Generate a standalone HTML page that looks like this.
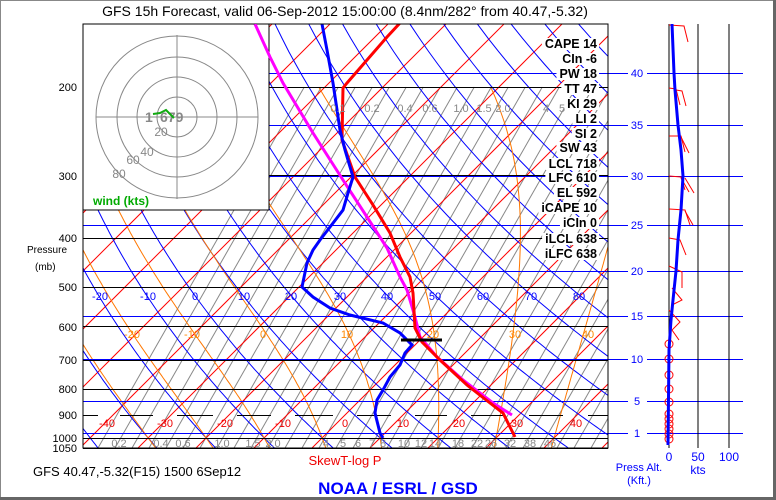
<!DOCTYPE html>
<html><head><meta charset="utf-8"><style>
html,body{margin:0;padding:0;background:#fff}
svg{display:block;font-family:"Liberation Sans",sans-serif}
</style></head><body>
<svg id="s" width="776" height="500" viewBox="0 0 776 500" xmlns="http://www.w3.org/2000/svg">
<defs><clipPath id="pc"><rect x="83" y="24" width="525" height="424"/></clipPath></defs>
<rect x="0" y="0" width="776" height="500" fill="#fff"/>
<rect x="0.5" y="0.5" width="774" height="498" fill="none" stroke="#888" stroke-width="1"/>
<rect x="773" y="0" width="3" height="500" fill="#666"/>
<rect x="0" y="497" width="776" height="3" fill="#666"/>
<g id="grid" clip-path="url(#pc)" fill="none"></g>
<g id="hl"></g>
<rect x="83" y="24" width="186" height="186" fill="#fff" stroke="#000" stroke-width="1"/>
<g fill="none" stroke="#888" stroke-width="1">
<circle cx="177" cy="117" r="20"/><circle cx="177" cy="117" r="40"/><circle cx="177" cy="117" r="60"/><circle cx="177" cy="117" r="81"/>
<line x1="96" y1="117" x2="258" y2="117"/><line x1="177" y1="35" x2="177" y2="199"/>
</g>
<g fill="#888" font-size="12" text-anchor="middle">
<text x="161" y="136">20</text><text x="147" y="156">40</text><text x="133" y="164">60</text><text x="119" y="178">80</text>
</g>
<text x="145" y="122" fill="#888" font-size="14" font-weight="bold">1</text>
<text x="160" y="122" fill="#888" font-size="14" font-weight="bold">679</text>
<polyline points="153,114 160,113 166,110 170,114 174,118" fill="none" stroke="#1a1" stroke-width="2"/>
<text x="93" y="205" fill="#0a0" font-size="12" font-weight="bold">wind (kts)</text>
<g id="prof" clip-path="url(#pc)" fill="none"></g>
<polyline points="269,24 608,24 608,448 83,448 83,210" fill="none" stroke="#000" stroke-width="1"/>
<g id="stats" font-size="12.5" font-weight="bold" text-anchor="end" fill="#000">
<text x="597" y="48">CAPE 14</text><text x="597" y="63">CIn -6</text><text x="597" y="78">PW 18</text><text x="597" y="93">TT 47</text>
<text x="597" y="108">KI 29</text><text x="597" y="123">LI 2</text><text x="597" y="138">SI 2</text><text x="597" y="152">SW 43</text>
<text x="597" y="168">LCL 718</text><text x="597" y="182">LFC 610</text><text x="597" y="197">EL 592</text><text x="597" y="212">iCAPE 10</text>
<text x="597" y="227">iCIn 0</text><text x="597" y="243">iLCL 638</text><text x="597" y="258">iLFC 638</text>
</g>
<g font-size="11" text-anchor="end" fill="#000">
<text x="77" y="91">200</text><text x="77" y="180">300</text><text x="77" y="242">400</text><text x="77" y="291">500</text>
<text x="77" y="331">600</text><text x="77" y="364">700</text><text x="77" y="393">800</text><text x="77" y="419">900</text>
<text x="77" y="442">1000</text><text x="77" y="452">1050</text>
</g>
<text x="27" y="253" font-size="10">Pressure</text>
<text x="35" y="270" font-size="10">(mb)</text>
<g font-size="11" fill="#00f" text-anchor="middle">
<text x="100" y="300">-20</text><text x="148" y="300">-10</text><text x="195" y="300">0</text><text x="244" y="300">10</text>
<text x="291" y="300">20</text><text x="340" y="300">30</text><text x="387" y="300">40</text><text x="435" y="300">50</text>
<text x="483" y="300">60</text><text x="531" y="300">70</text><text x="579" y="300">80</text>
</g>
<g font-size="11" fill="#f80" text-anchor="middle">
<text x="132" y="338">-20</text><text x="192" y="338">-10</text><text x="263" y="338">0</text><text x="347" y="338">10</text>
<text x="433" y="338">20</text><text x="515" y="338">30</text><text x="588" y="338">40</text>
</g>
<g font-size="11" fill="#e00" text-anchor="middle">
<text x="107" y="427">-40</text><text x="165" y="427">-30</text><text x="225" y="427">-20</text><text x="283" y="427">-10</text>
<text x="345" y="427">0</text><text x="403" y="427">10</text><text x="459" y="427">20</text><text x="517" y="427">30</text><text x="576" y="427">40</text>
</g>
<g font-size="11" fill="#888" text-anchor="middle">
<text x="119" y="447">0.2</text><text x="161" y="447">0.4</text><text x="183" y="447">0.6</text><text x="222" y="447">1.0</text>
<text x="253" y="447">1.5</text><text x="273" y="447">2.0</text><text x="326" y="447">4</text><text x="343" y="447">5</text>
<text x="358" y="447">6</text><text x="372" y="447">7</text><text x="383" y="447">8</text><text x="404" y="447">10</text>
<text x="421" y="447">12</text><text x="435" y="447">14</text><text x="458" y="447">18</text><text x="477" y="447">22</text>
<text x="491" y="447">26</text><text x="510" y="447">32</text><text x="530" y="447">38</text><text x="550" y="447">46</text>
<text x="338" y="112">0.1</text><text x="372" y="112">0.2</text><text x="405" y="112">0.4</text><text x="430" y="112">0.6</text>
<text x="461" y="112">1.0</text><text x="484" y="112">1.5</text><text x="503" y="112">2.0</text><text x="546" y="112">4</text><text x="562" y="112">5</text>
</g>
<g stroke="#000" stroke-width="1">
<line x1="669" y1="24" x2="669" y2="448"/><line x1="698" y1="24" x2="698" y2="448"/><line x1="729" y1="24" x2="729" y2="448"/>
</g>
<g font-size="11" fill="#00f" text-anchor="middle">
<text x="637" y="77">40</text><text x="637" y="129">35</text><text x="637" y="180">30</text><text x="637" y="229">25</text>
<text x="637" y="275">20</text><text x="637" y="320">15</text><text x="637" y="363">10</text><text x="637" y="405">5</text><text x="637" y="437">1</text>
</g>
<g fill="none" stroke="#f00" stroke-width="1">
<polyline points="669,25 684,26 688,42"/>
<polyline points="669,88 676,89 680,105"/><polyline points="676,90 682,91 686,106"/>
<polyline points="669,136 681,136 685,152"/><polyline points="681,137 689,153"/>
<polyline points="669,176 681,177 685,190"/><polyline points="681,178 689,192"/><polyline points="685,178 694,193"/>
<polyline points="669,209 685,210 690,225"/><polyline points="685,211 693,225"/>
<polyline points="669,238 680,240 686,255"/>
<polyline points="669,266 682,272 682,288"/>
<polyline points="672,288 682,300 672,305"/>
<polyline points="669,310 680,322 672,330 679,340"/>
</g>
<g fill="none" stroke="#f00" stroke-width="1">
<circle cx="669" cy="344" r="4"/><circle cx="669" cy="359" r="4"/><circle cx="669" cy="375" r="4"/><circle cx="669" cy="389" r="4"/>
<circle cx="669" cy="402" r="4"/><circle cx="669" cy="414" r="4"/><circle cx="669" cy="419" r="4"/><circle cx="669" cy="424" r="4"/>
<circle cx="669" cy="429" r="4"/><circle cx="669" cy="434" r="4"/><circle cx="669" cy="439" r="4"/>
</g>
<polyline points="672,24 674,73 675,90 678,125 681,150 683,176 681,210 678,240 676,271 673,300 671,320 669,350 668,445" fill="none" stroke="#00f" stroke-width="3"/>
<g font-size="12" fill="#00f" text-anchor="middle">
<text x="669" y="461">0</text><text x="698" y="461">50</text><text x="729" y="461">100</text><text x="698" y="474">kts</text>
</g>
<g font-size="11" fill="#00f" text-anchor="middle"><text x="639" y="471">Press Alt.</text><text x="639" y="484">(Kft.)</text></g>
<text x="345" y="16" font-size="14" text-anchor="middle" fill="#000">GFS 15h Forecast, valid 06-Sep-2012 15:00:00 (8.4nm/282° from 40.47,-5.32)</text>
<text x="345" y="465" font-size="13" text-anchor="middle" fill="#e00">SkewT-log P</text>
<text x="33" y="476" font-size="13" fill="#000">GFS 40.47,-5.32(F15) 1500 6Sep12</text>
<text x="398" y="494" font-size="17" font-weight="bold" text-anchor="middle" fill="#00f">NOAA / ESRL / GSD</text>
<script>
(function(){
var NS="http://www.w3.org/2000/svg";
function Y(p){return 87+218*Math.log(p/200);}
function X(T,y){return 345+5.8*T+(415-y);}
function pl(g,pts,col,w){var e=document.createElementNS(NS,"polyline");e.setAttribute("points",pts.map(function(a){return a[0].toFixed(1)+","+a[1].toFixed(1)}).join(" "));e.setAttribute("stroke",col);e.setAttribute("stroke-width",w);e.setAttribute("fill","none");g.appendChild(e);}
function ln(g,x1,y1,x2,y2,col,w){pl(g,[[x1,y1],[x2,y2]],col,w);}
var g=document.getElementById("grid");
var ps=[];for(var p=140;p<=1060;p+=10)ps.push(p);
for(var x0=404-17*18;x0<=800;x0+=17){ln(g,x0,448,x0+361/1.75,87,"#888",1);}
for(var T=-130;T<=70;T+=10){var y1=Y(1050),y2=Y(140);ln(g,X(T,y1),y1,X(T,y2),y2,"#f00",1);}
for(var th=-60;th<=200;th+=10){var pts=[];ps.forEach(function(p){var T=(th+273.15)*Math.pow(p/1000,0.2857)-273.15;var y=Y(p);pts.push([X(T,y),y]);});pl(g,pts,"#00f",1);}
function es(T){return 6.112*Math.exp(17.67*T/(T+243.5));}
function dTdp(p,T){var Tk=T+273.15;var rs=0.622*es(T)/(p-es(T));var Lv=2.5e6,Rd=287,Cp=1005;return (Rd*Tk+Lv*rs)/(p*(Cp+Lv*Lv*rs*0.622/(Rd*Tk*Tk)));}
for(var tw=-30;tw<=45;tw+=10){var pts=[];var T=tw,p=1000;var T2=tw;for(var q=1000;q<1050;q+=2){T2+=dTdp(q,T2)*2;}
pts.push([X(T2,Y(1050)),Y(1050)]);
for(p=1000;p>=200;p-=2){if(p%10==0){var y=Y(p);pts.push([X(T,y),y]);}T-=dTdp(p,T)*2;}
pl(g,pts,"#f70",1);}
var h=document.getElementById("hl");
[200,300,400,500,600,700,800,1000].forEach(function(p){var y=Math.round(Y(p))+0.5;ln(h,83,y,608,y,"#000",1);});
[[83,98],[120,153],[177,213],[237,271],[295,333],[357,391],[415,447],[471,505],[529,563],[588,608]].forEach(function(s){ln(h,s[0],415.5,s[1],415.5,"#000",1);});
ln(h,83,448.5,608,448.5,"#000",1);
[73,125,176,225,271,316,359,401,433].forEach(function(y){ln(h,83,y+0.5,628,y+0.5,"#00f",1);ln(h,647,y+0.5,743,y+0.5,"#00f",1);});
var st=document.getElementById("stats");
var pr=document.getElementById("prof");
pl(pr,[[255,24],[270,57],[283,83],[313,133],[343,180],[367,217],[387,248],[400,277],[407,290],[415,317],[420,337],[437,357],[463,380],[493,403],[512,415]],"#f0f",3);
pl(pr,[[400,23],[387,37],[367,60],[347,83],[343,88],[342,140],[355,177],[373,205],[390,233],[400,257],[410,277],[413,293],[415,328],[422,342],[440,360],[467,385],[490,403],[503,413],[515,437]],"#f00",3);
pl(pr,[[322,24],[327,50],[333,83],[340,130],[345,150],[353,177],[348,193],[343,210],[330,227],[320,240],[313,250],[307,263],[302,287],[313,297],[330,308],[350,315],[383,323],[400,333],[412,345],[405,353],[400,365],[390,377],[383,390],[377,400],[375,413],[380,433],[383,438]],"#00f",3);
ln(pr,401,340,442,340,"#000",3);
var texts=st.querySelectorAll("text");
texts.forEach(function(t){var b=t.getBBox();var r=document.createElementNS(NS,"rect");r.setAttribute("x",b.x-3);r.setAttribute("y",b.y+1);r.setAttribute("width",b.width+5);r.setAttribute("height",b.height-2);r.setAttribute("fill","#fff");st.insertBefore(r,st.firstChild);});
})();
</script>
</svg>
</body></html>
